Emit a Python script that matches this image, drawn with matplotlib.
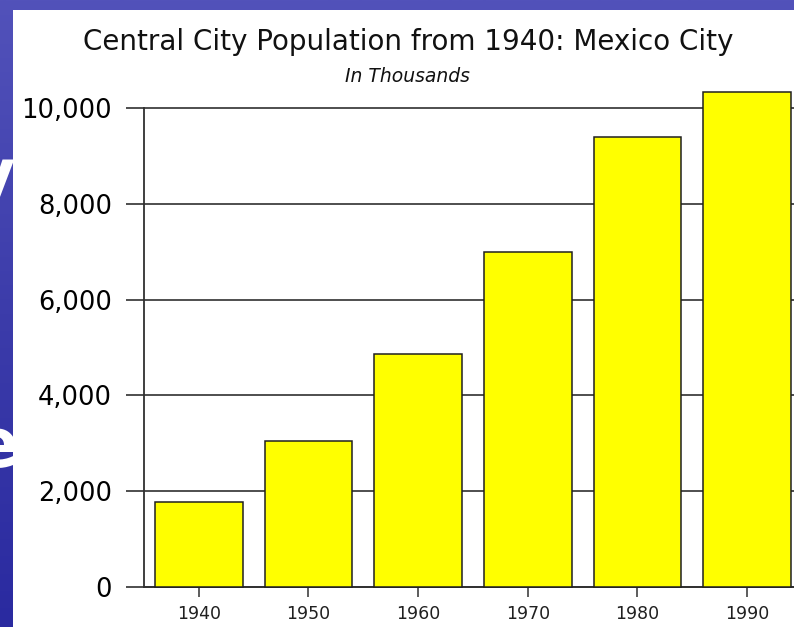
import matplotlib
matplotlib.use("Agg")
import matplotlib.pyplot as plt
from matplotlib.patches import Rectangle
import numpy as np

years = ["1940", "1950", "1960", "1970", "1980", "1990"]
population = [1770, 3050, 4865, 7000, 9385, 10335]
yticks = [0, 2000, 4000, 6000, 8000, 10000]
ytick_labels = ["0", "2,000", "4,000", "6,000", "8,000", "10,000"]
title = "Central City Population from 1940: Mexico City"
subtitle = "In Thousands"

W, H = 794, 627
fig = plt.figure(figsize=(W / 100, H / 100), dpi=100)
fig.patch.set_facecolor("#4848B4")
plt.rcParams['font.family'] = ['DejaVu Sans']

# blue slide gradient background
grad = np.linspace(0, 1, 256).reshape(-1, 1)
bg = fig.add_axes([0, 0, 1, 1], zorder=-10)
bg.imshow(grad, aspect="auto", cmap=matplotlib.colors.LinearSegmentedColormap.from_list(
    "slide", ["#5252BA", "#3C3CAA", "#2A2AA0"]), extent=[0, 1, 0, 1])
bg.set_axis_off()

# partial white slide letters peeking out behind the chart panel
fig.text(15 / W, 1 - 178 / H, "y", color="white", fontsize=48, fontweight="bold",
         ha="right", va="center", zorder=-5)
fig.text(18 / W, 1 - 448 / H, "e", color="white", fontsize=48, fontweight="bold",
         ha="right", va="center", zorder=-5)

# white chart panel
fig.patches.append(Rectangle((13 / W, 0), 1 - 13 / W, 1 - 10 / H, transform=fig.transFigure,
                             facecolor="white", edgecolor="none", zorder=-2))

left_px, right_px, top_px, bot_px = 144, 802, 108, 587
ax = fig.add_axes([left_px / W, 1 - bot_px / H, (right_px - left_px) / W, (bot_px - top_px) / H],
                  zorder=1)
ax.patch.set_alpha(0)

x = np.arange(len(years))
bars = ax.bar(x, population, width=0.8, color="#FFFF00", edgecolor="#202020",
              linewidth=1.1, zorder=3)
for b in bars:
    b.set_clip_on(False)

ax.set_xlim(-0.5, len(years) - 0.5)
ax.set_ylim(0, 10000)
ax.set_yticks(yticks)
ax.set_yticklabels(ytick_labels, fontsize=18.5)
ax.set_xticks(x)
ax.set_xticklabels(years, fontsize=12.5, color="#202020")

ax.yaxis.grid(True, color="#404040", linewidth=1.3, zorder=0)
ax.set_axisbelow(True)
for gl in ax.get_ygridlines():
    gl.set_clip_on(False)

for s in ["top", "right"]:
    ax.spines[s].set_visible(False)
for s in ["left", "bottom"]:
    ax.spines[s].set_color("#303030")
    ax.spines[s].set_linewidth(1.3)

ax.tick_params(axis="y", length=13, width=1.3, color="#404040", pad=10)
ax.tick_params(axis="x", length=7, width=1.1, color="#303030", pad=6)

fig.text(408 / W, 1 - 42 / H, title, fontsize=20, ha="center", va="center", color="#111111")
fig.text(407 / W, 1 - 77 / H, subtitle, fontsize=13.5, style="italic", ha="center",
         va="center", color="#111111")

fig.savefig("out.png", dpi=100, facecolor=fig.get_facecolor())
